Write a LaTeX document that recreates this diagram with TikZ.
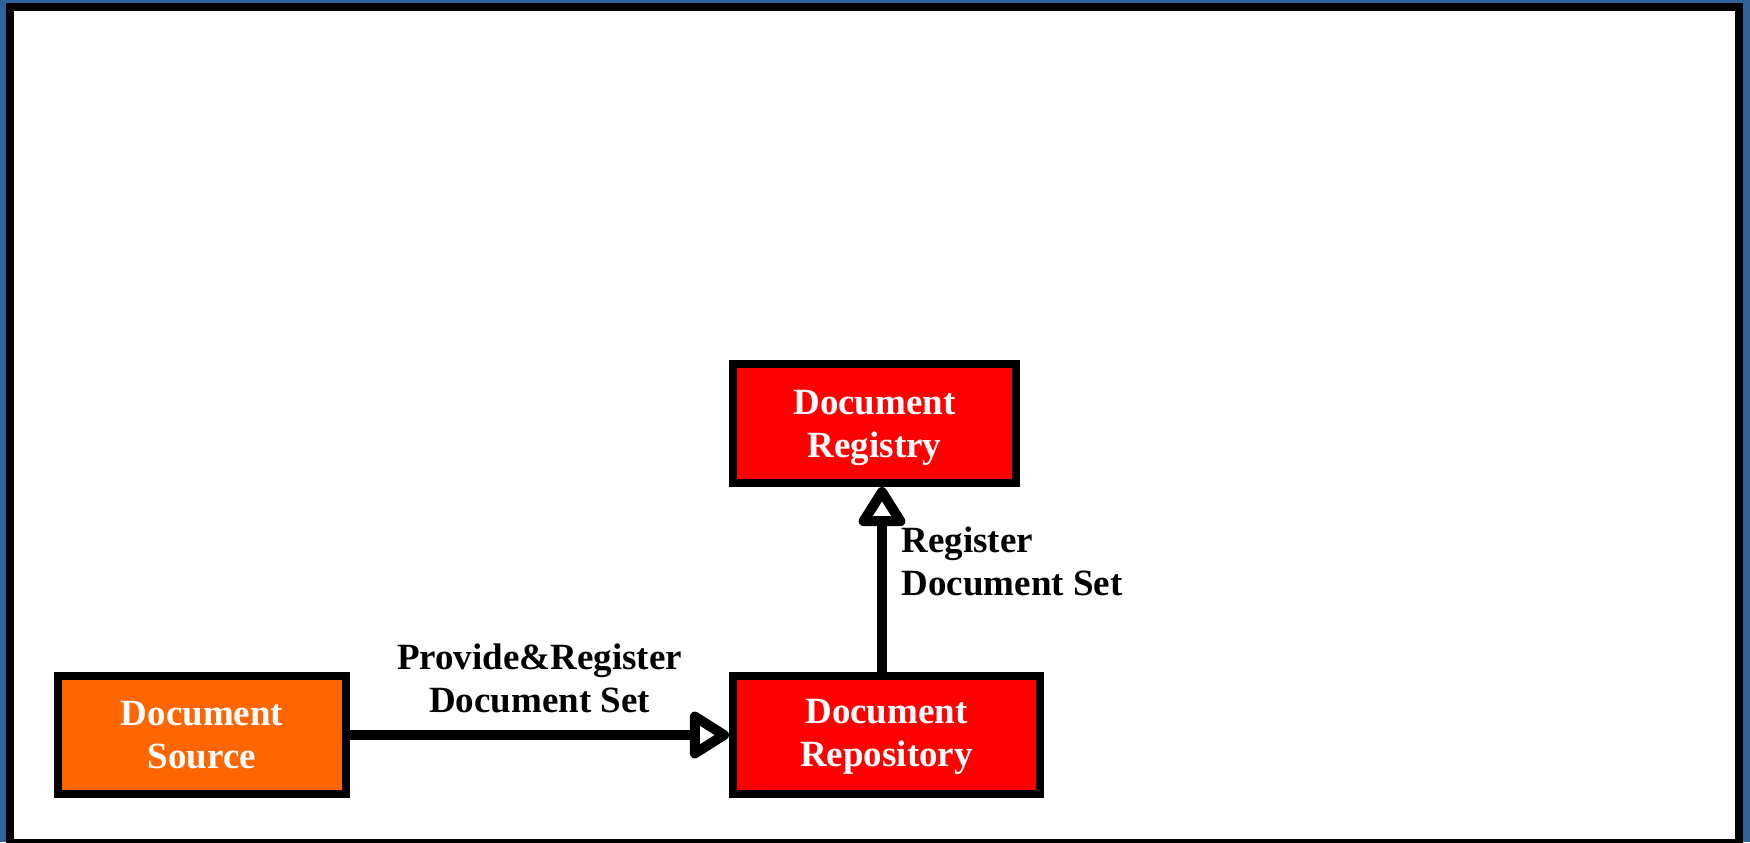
\documentclass[tikz,border=0pt]{standalone}
\usepackage{fontspec}
\setmainfont{Liberation Serif}
\usetikzlibrary{arrows.meta}
\definecolor{frameblue}{RGB}{49,98,152}
\definecolor{srcorange}{RGB}{255,102,0}
\definecolor{repored}{RGB}{255,0,0}
\begin{document}
\begin{tikzpicture}[x=0.5pt,y=-0.5pt,
        box/.style={draw=black,line width=4pt,text=white,align=center,
            font=\fontsize{18.5}{21.5}\selectfont\bfseries,inner sep=0pt},
        flow/.style={line width=5pt,-{Triangle[open,round,length=22pt,width=26pt,fill=white]}},
        lbl/.style={font=\fontsize{18.5}{21.5}\selectfont\bfseries}]
                \clip (0,0) rectangle (1750,842);
                \fill[frameblue] (0,0) rectangle (1750,842);
                \fill[black] (6,3) rectangle (1743,860);
                \fill[white] (14,11) rectangle (1735,839);

                \node [box,fill=srcorange,minimum width=144pt,minimum height=59pt,text depth=-8pt] (src) at (202,735) {Document\\Source};
                \node [box,fill=repored,minimum width=153.5pt,minimum height=59pt,text depth=1.8pt] (repo) at (886.5,735) {Document\\Repository};
                \node [box,fill=repored,minimum width=141.5pt,minimum height=59.5pt,text depth=-3pt] (reg) at (874.5,423.5) {Document\\Registry};

                \draw[flow] (src.east) -- (repo.west)
                    node [lbl,midway,above=5pt,align=center] (provide) {Provide\&Register\\Document Set};
                \draw[flow] (repo.north -| 882,0) -- (reg.south -| 882,0)
                    node [lbl,pos=0.6,right=4pt,align=left] (register) {Register\\Document Set};
            \end{tikzpicture}
\end{document}
